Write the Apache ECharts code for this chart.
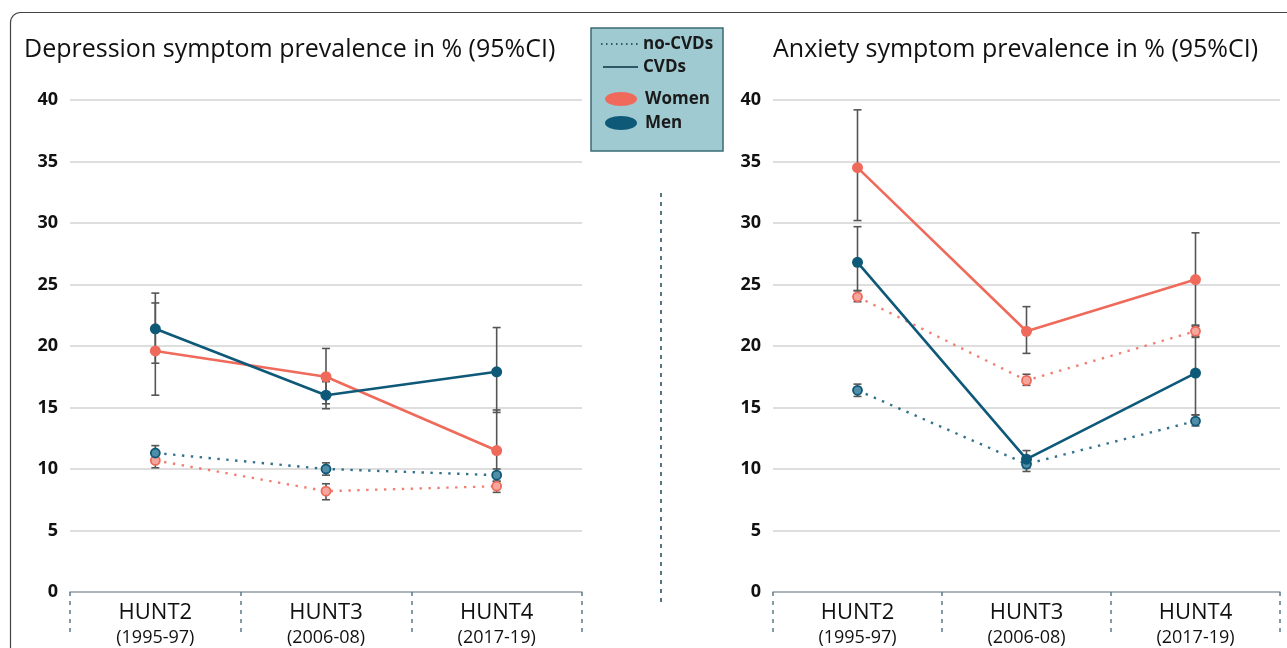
<!DOCTYPE html>
<html>
<head>
<meta charset="utf-8">
<script src="https://cdn.jsdelivr.net/npm/echarts@6/dist/echarts.min.js"></script>
<style>
html,body{margin:0;padding:0;background:#fff;}
#c{width:1287px;height:648px;}
</style>
</head>
<body>
<div id="c"></div>
<script>
// ---- data ----
const categories = ['HUNT2', 'HUNT3', 'HUNT4'];
const periods = ['(1995-97)', '(2006-08)', '(2017-19)'];
const yTicks = [0, 5, 10, 15, 20, 25, 30, 35, 40];

// Depression
const depWomenCVD = [19.6, 17.5, 11.5];
const depWomenCVDLo = [16.0, 15.3, 8.7];
const depWomenCVDHi = [23.5, 19.8, 14.8];
const depMenCVD = [21.4, 16.0, 17.9];
const depMenCVDLo = [18.6, 14.9, 14.6];
const depMenCVDHi = [24.3, 17.1, 21.5];
const depWomenNo = [10.7, 8.2, 8.6];
const depWomenNoLo = [10.1, 7.5, 8.1];
const depWomenNoHi = [11.3, 8.8, 9.0];
const depMenNo = [11.3, 10.0, 9.5];
const depMenNoLo = [10.7, 9.5, 9.0];
const depMenNoHi = [11.9, 10.5, 10.0];

// Anxiety
const anxWomenCVD = [34.5, 21.2, 25.4];
const anxWomenCVDLo = [30.2, 19.4, 21.6];
const anxWomenCVDHi = [39.2, 23.2, 29.2];
const anxMenCVD = [26.8, 10.8, 17.8];
const anxMenCVDLo = [24.5, 10.1, 14.4];
const anxMenCVDHi = [29.7, 11.5, 20.8];
const anxWomenNo = [24.0, 17.2, 21.2];
const anxWomenNoLo = [23.6, 16.8, 20.7];
const anxWomenNoHi = [24.5, 17.7, 21.7];
const anxMenNo = [16.4, 10.4, 13.9];
const anxMenNoLo = [15.9, 9.8, 13.5];
const anxMenNoHi = [16.9, 10.9, 14.4];

// ---- styles ----
const RED = '#ef6a5b', BLUE = '#0e5878';
const RED_L = '#f6a79d', BLUE_L = '#4f8ea6';
const FONT = '"Open Sans", "Noto Sans", sans-serif';

function errData(lo, hi) { return lo.map((v, i) => [i, v, hi[i]]); }
function errSeries(idx, lo, hi) {
  return {
    type: 'custom', xAxisIndex: idx, yAxisIndex: idx, z: 1, silent: true,
    data: errData(lo, hi),
    renderItem: function (params, api) {
      const p1 = api.coord([api.value(0), api.value(1)]);
      const p2 = api.coord([api.value(0), api.value(2)]);
      const w = 4;
      const st = { stroke: '#555', lineWidth: 1.6 };
      return { type: 'group', children: [
        { type: 'line', shape: { x1: p1[0], y1: p1[1], x2: p2[0], y2: p2[1] }, style: st },
        { type: 'line', shape: { x1: p1[0] - w, y1: p1[1], x2: p1[0] + w, y2: p1[1] }, style: st },
        { type: 'line', shape: { x1: p2[0] - w, y1: p2[1], x2: p2[0] + w, y2: p2[1] }, style: st }
      ]};
    }
  };
}
function solid(idx, data, color) {
  return { type: 'line', xAxisIndex: idx, yAxisIndex: idx, z: 3, data: data,
    symbol: 'circle', symbolSize: 11, lineStyle: { color: color, width: 2.6 },
    itemStyle: { color: color }, silent: true };
}
function dotted(idx, data, color, fill) {
  return { type: 'line', xAxisIndex: idx, yAxisIndex: idx, z: 2, data: data,
    symbol: 'circle', symbolSize: 9,
    lineStyle: { color: color, width: 2.4, type: [2.4, 6.5], opacity: 0.85 },
    itemStyle: { color: fill, borderColor: color, borderWidth: 1.8 }, silent: true };
}

function xAxis(idx) {
  return {
    type: 'category', gridIndex: idx, data: categories, boundaryGap: true,
    axisLine: { lineStyle: { color: '#9aa8b0', width: 1.5 } },
    axisTick: { show: true, length: 40, lineStyle: { color: '#5b7b88', width: 1.5, type: [4, 5] } },
    axisLabel: {
      margin: 8, interval: 0,
      formatter: function (v, i) { return '{a|' + v + '}\n{b|' + periods[i] + '}'; },
      rich: {
        a: { fontSize: 22, fontFamily: FONT, color: '#111', lineHeight: 26, fontWeight: 500 },
        b: { fontSize: 18, fontFamily: FONT, color: '#111', lineHeight: 24 }
      }
    }
  };
}
function yAxis(idx) {
  return {
    type: 'value', gridIndex: idx, min: 0, max: 40, interval: 5,
    axisLine: { show: false }, axisTick: { show: false },
    splitLine: { lineStyle: { color: '#dedede', width: 2 } },
    axisLabel: { margin: 12, fontSize: 18, fontWeight: 'bold', fontFamily: FONT, color: '#111',
      formatter: function (v) { return yTicks.indexOf(v) >= 0 ? String(v) : ''; } }
  };
}

const chart = echarts.init(document.getElementById('c'));
chart.setOption({
  animation: false,
  title: [
    { text: 'Depression symptom prevalence in % (95%CI)', left: 19, top: 32,
      textStyle: { fontSize: 25, fontWeight: 'normal', fontFamily: FONT, color: '#111' } },
    { text: 'Anxiety symptom prevalence in % (95%CI)', left: 768, top: 32,
      textStyle: { fontSize: 25, fontWeight: 'normal', fontFamily: FONT, color: '#111' } }
  ],
  grid: [
    { left: 70, width: 512, top: 100, bottom: 56 },
    { left: 773, width: 507, top: 100, bottom: 56 }
  ],
  xAxis: [xAxis(0), xAxis(1)],
  yAxis: [yAxis(0), yAxis(1)],
  series: [
    errSeries(0, depWomenCVDLo, depWomenCVDHi),
    errSeries(0, depMenCVDLo, depMenCVDHi),
    errSeries(0, depWomenNoLo, depWomenNoHi),
    errSeries(0, depMenNoLo, depMenNoHi),
    dotted(0, depWomenNo, RED, RED_L),
    dotted(0, depMenNo, BLUE, BLUE_L),
    solid(0, depWomenCVD, RED),
    solid(0, depMenCVD, BLUE),

    errSeries(1, anxWomenCVDLo, anxWomenCVDHi),
    errSeries(1, anxMenCVDLo, anxMenCVDHi),
    errSeries(1, anxWomenNoLo, anxWomenNoHi),
    errSeries(1, anxMenNoLo, anxMenNoHi),
    dotted(1, anxWomenNo, RED, RED_L),
    dotted(1, anxMenNo, BLUE, BLUE_L),
    solid(1, anxWomenCVD, RED),
    solid(1, anxMenCVD, BLUE)
  ],
  graphic: [
    { type: 'rect', shape: { x: 10.5, y: 12.5, width: 1320, height: 700, r: 10 },
      style: { fill: 'none', stroke: '#444', lineWidth: 1.2 }, z: 0, silent: true },
    { type: 'line', shape: { x1: 661, y1: 193, x2: 661, y2: 604 },
      style: { stroke: '#557583', lineWidth: 2, lineDash: [4, 5] }, silent: true },
    { type: 'group', z: 100, silent: true, children: [
      { type: 'rect', shape: { x: 591, y: 28, width: 132, height: 123 },
        style: { fill: '#9fcad1', stroke: '#3d6b75', lineWidth: 1.5 } },
      { type: 'line', shape: { x1: 601, y1: 44, x2: 640, y2: 44 },
        style: { stroke: '#2d5866', lineWidth: 2, lineDash: [1.5, 3.5] } },
      { type: 'text', style: { x: 643, y: 44, text: 'no-CVDs', fill: '#1a1a1a',
        font: 'bold 17px ' + FONT, textVerticalAlign: 'middle' } },
      { type: 'line', shape: { x1: 603, y1: 67, x2: 638, y2: 67 },
        style: { stroke: '#2d5866', lineWidth: 2 } },
      { type: 'text', style: { x: 643, y: 67, text: 'CVDs', fill: '#1a1a1a',
        font: 'bold 17px ' + FONT, textVerticalAlign: 'middle' } },
      { type: 'ellipse', shape: { cx: 621, cy: 99, rx: 16, ry: 7 }, style: { fill: RED } },
      { type: 'text', style: { x: 645, y: 99, text: 'Women', fill: '#1a1a1a',
        font: 'bold 17px ' + FONT, textVerticalAlign: 'middle' } },
      { type: 'ellipse', shape: { cx: 621, cy: 123, rx: 16, ry: 7 }, style: { fill: BLUE } },
      { type: 'text', style: { x: 645, y: 123, text: 'Men', fill: '#1a1a1a',
        font: 'bold 17px ' + FONT, textVerticalAlign: 'middle' } }
    ]}
  ]
});
</script>
</body>
</html>
